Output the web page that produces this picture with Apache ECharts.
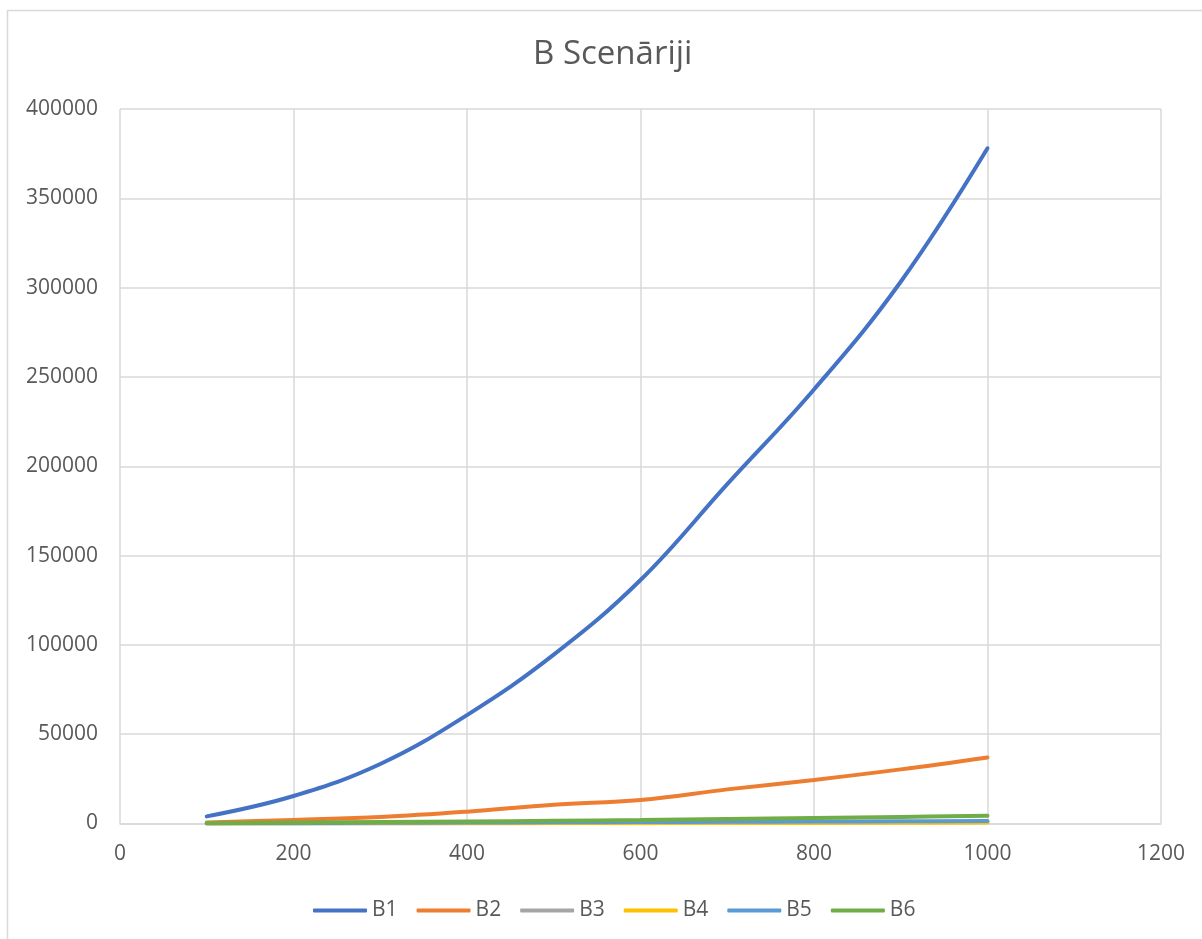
<!DOCTYPE html>
<html>
<head>
<meta charset="utf-8">
<title>B Scenāriji</title>
<script src="https://cdn.jsdelivr.net/npm/echarts@6/dist/echarts.min.js"></script>
<style>
  html, body { margin: 0; padding: 0; background: #ffffff; }
  #chart { width: 1202px; height: 939px; }
</style>
</head>
<body>
<div id="chart"></div>
<script>
// Problem size (x) and measured values for each scenario
const sizes = [100, 200, 300, 400, 500, 600, 700, 800, 900, 1000];
const seriesNames = ['B1', 'B2', 'B3', 'B4', 'B5', 'B6'];
const b1 = [4000, 15400, 33300, 60700, 94500, 136300, 190000, 243000, 303300, 378000];
const b2 = [500, 2000, 3600, 6600, 10500, 13200, 19100, 24400, 30300, 37000];
const b3 = [10, 40, 90, 160, 250, 360, 490, 640, 810, 1000];
const b4 = [5, 20, 45, 80, 125, 180, 245, 320, 405, 500];
const b5 = [50, 200, 350, 500, 650, 800, 950, 1100, 1250, 1400];
const b6 = [150, 500, 800, 1100, 1500, 1950, 2500, 3100, 3700, 4300];
const colors = ['#4472C4', '#ED7D31', '#A5A5A5', '#FFC000', '#5B9BD5', '#70AD47'];

const values = [b1, b2, b3, b4, b5, b6];
const fontFamily = '"Open Sans", "Noto Sans", sans-serif';
const textColor = '#595959';
const plain = v => String(v);

const chart = echarts.init(document.getElementById('chart'), null, { renderer: 'canvas' });

const series = seriesNames.map((name, i) => ({
  name: name,
  type: 'line',
  smooth: 0.4,
  symbol: 'none',
  data: sizes.map((x, j) => [x, values[i][j]]),
  lineStyle: { color: colors[i], width: 4, cap: 'round' },
  itemStyle: { color: colors[i] },
  emphasis: { disabled: true }
}));

chart.setOption({
  backgroundColor: '#ffffff',
  animation: false,
  graphic: [{
    type: 'rect',
    shape: { x: 7.5, y: 10.5, width: 1400, height: 1100 },
    style: { fill: 'none', stroke: '#d9d9d9', lineWidth: 1.5 },
    silent: true,
    z: -10
  }],
  title: {
    text: 'B Scenāriji',
    left: 528,
    top: 33,
    textStyle: { fontFamily: fontFamily, fontSize: 33, fontWeight: 'normal', color: textColor }
  },
  legend: {
    data: seriesNames,
    left: 308,
    top: 895,
    icon: 'roundRect',
    itemWidth: 54,
    itemHeight: 4,
    itemGap: 19,
    textStyle: { fontFamily: fontFamily, fontSize: 21, color: textColor }
  },
  grid: { left: 120, right: 41, top: 109, bottom: 115.5, containLabel: false },
  xAxis: {
    type: 'value',
    min: 0,
    max: 1200,
    interval: 200,
    axisLine: { show: true, lineStyle: { color: '#d9d9d9', width: 1.5 } },
    axisTick: { show: false },
    axisLabel: { margin: 20, fontFamily: fontFamily, fontSize: 21, color: textColor, formatter: plain },
    splitLine: { show: true, lineStyle: { color: '#d9d9d9', width: 1.5 } }
  },
  yAxis: {
    type: 'value',
    min: 0,
    max: 400000,
    interval: 50000,
    axisLine: { show: false },
    axisTick: { show: false },
    axisLabel: { margin: 22, fontFamily: fontFamily, fontSize: 21, color: textColor, formatter: plain },
    splitLine: { show: true, lineStyle: { color: '#d9d9d9', width: 1.5 } }
  },
  series: series
});
</script>
</body>
</html>
